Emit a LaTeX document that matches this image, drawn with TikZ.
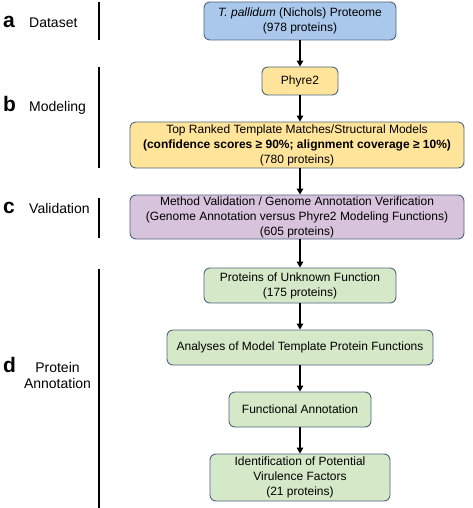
\documentclass[tikz,border=0pt]{standalone}
\usepackage{fontspec}
\setmainfont{Liberation Sans}
\usetikzlibrary{arrows.meta}
\definecolor{bordc}{HTML}{4F6580}
\definecolor{bluef}{HTML}{A9C8EB}
\definecolor{yellf}{HTML}{FFE49A}
\definecolor{purpf}{HTML}{D8C3DD}
\definecolor{greenf}{HTML}{D5E8C8}
\tikzset{
  box/.style={draw=bordc, line width=0.9pt, rounded corners=6pt, align=center, inner sep=0pt,
    font=\fontsize{12}{15}\selectfont},
  arr/.style={line width=1.6pt, -{Triangle[length=6pt,width=6.5pt]}},
  bar/.style={line width=1.8pt},
  letter/.style={anchor=base west, font=\fontsize{21}{21}\selectfont\bfseries, inner sep=0pt},
  stage/.style={anchor=base west, font=\fontsize{14}{16}\selectfont, inner sep=0pt}
}
\begin{document}
\begin{tikzpicture}[x=1pt,y=-1pt]
\useasboundingbox (0,0) rectangle (472,508);
% boxes
\node[box, fill=bluef, minimum width=192pt, minimum height=38pt] (n1) at (300,21)
  {\textit{T. pallidum} (Nichols) Proteome\\(978 proteins)};
\node[box, fill=yellf, minimum width=76pt, minimum height=28pt] (n2) at (300,81) {Phyre2};
\node[box, fill=yellf, minimum width=334pt, minimum height=46pt] (n3) at (297,145)
  {Top Ranked Template Matches/Structural Models\\\textbf{(confidence scores ≥ 90\%; alignment coverage ≥ 10\%)}\\(780 proteins)};
\node[box, fill=purpf, minimum width=334pt, minimum height=44pt] (n4) at (297,217)
  {Method Validation / Genome Annotation Verification\\(Genome Annotation versus Phyre2 Modeling Functions)\\(605 proteins)};
\node[box, fill=greenf, minimum width=192pt, minimum height=35pt] (n5) at (300,285.5)
  {Proteins of Unknown Function\\(175 proteins)};
\node[box, fill=greenf, minimum width=266pt, minimum height=35pt] (n6) at (300,347.5)
  {Analyses of Model Template Protein Functions};
\node[box, fill=greenf, minimum width=142pt, minimum height=35pt] (n7) at (300,409.5)
  {Functional Annotation};
\node[box, fill=greenf, minimum width=180pt, minimum height=47pt] (n8) at (300,477.5)
  {Identification of Potential\\Virulence Factors\\(21 proteins)};
% arrows
\draw[arr] (n1.south) -- (n2.north);
\draw[arr] (n2.south) -- (n2.south |- n3.north);
\draw[arr] (n3.south -| n2.south) -- (n4.north -| n2.south);
\draw[arr] (n4.south -| n5.north) -- (n5.north);
\draw[arr] (n5.south) -- (n6.north);
\draw[arr] (n6.south) -- (n7.north);
\draw[arr] (n7.south) -- (n8.north);
% stage labels
\node[letter] (la) at (3,28) {a};
\node[stage] (sa) at (29,28) {Dataset};
\node[letter] (lb) at (3,112) {b};
\node[stage] (sb) at (29,112) {Modeling};
\node[letter] (lc) at (3,213) {c};
\node[stage] (sc) at (29,213) {Validation};
\node[letter] (ld) at (3,372) {d};
\node[stage, anchor=base, align=center] (sd) at (57.5,388) {Protein\\Annotation};
% bars
\coordinate (a1) at (99,2); \coordinate (a2) at (99,40);
\coordinate (b1) at (99,67); \coordinate (b2) at (99,168);
\coordinate (c1) at (99,198); \coordinate (c2) at (99,238);
\coordinate (d1) at (99,269); \coordinate (d2) at (99,508);
\draw[bar] (a1) -- (a2);
\draw[bar] (b1) -- (b2);
\draw[bar] (c1) -- (c2);
\draw[bar] (d1) -- (d2);
\end{tikzpicture}
\end{document}
